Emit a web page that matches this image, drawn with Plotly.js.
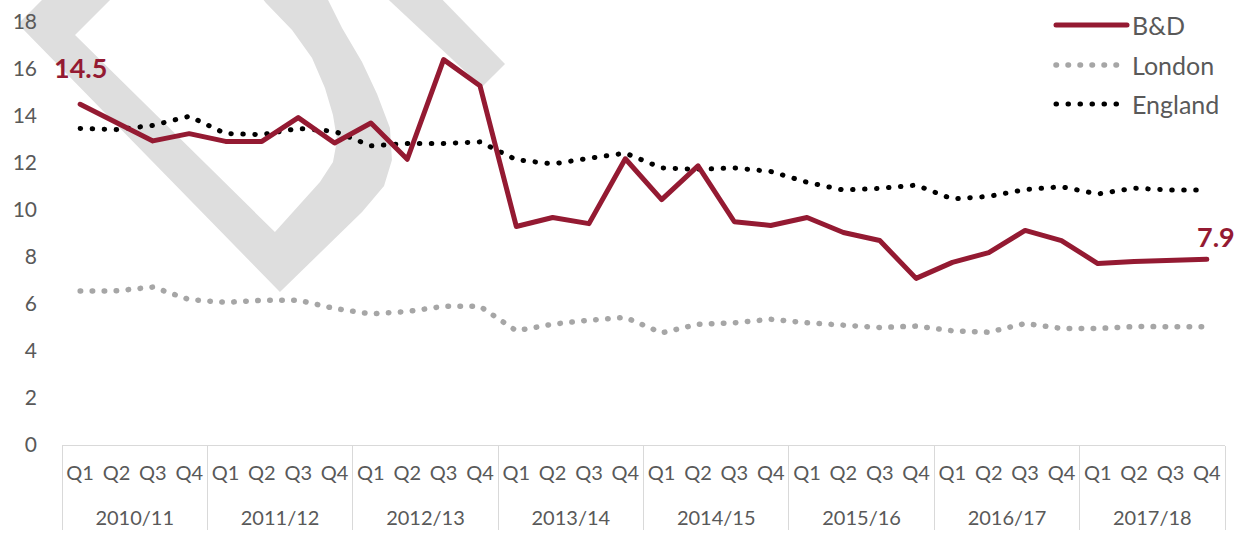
<!DOCTYPE html>
<html>
<head>
<meta charset="utf-8">
<script src="https://cdn.plot.ly/plotly-3.0.1.min.js"></script>
<style>
  html, body { margin: 0; padding: 0; background: #ffffff; }
  #chart { width: 1237px; height: 534px; }
  .scatterlayer .js-line { stroke-linecap: round; stroke-linejoin: round; }
  .shapelayer path.legline { stroke-linecap: round; }
</style>
</head>
<body>
<div id="chart"></div>
<script>
// ---------- data ----------
var years = ['2010/11', '2011/12', '2012/13', '2013/14', '2014/15', '2015/16', '2016/17', '2017/18'];
var quarters = ['Q1', 'Q2', 'Q3', 'Q4'];

var bdValues = [14.5, 13.7, 12.94, 13.25, 12.92, 12.92, 13.93, 12.85,
                13.7, 12.16, 16.4, 15.29, 9.3, 9.68, 9.42, 12.18,
                10.44, 11.88, 9.5, 9.34, 9.68, 9.04, 8.7, 7.09,
                7.77, 8.19, 9.13, 8.7, 7.72, 7.81, 7.87, 7.9];

var londonValues = [6.55, 6.56, 6.72, 6.19, 6.07, 6.16, 6.16, 5.81,
                    5.58, 5.68, 5.9, 5.9, 4.86, 5.14, 5.31, 5.43,
                    4.77, 5.14, 5.2, 5.35, 5.2, 5.1, 5.0, 5.06,
                    4.86, 4.8, 5.17, 4.96, 4.96, 5.04, 5.04, 5.03];

var englandValues = [13.47, 13.42, 13.6, 13.99, 13.25, 13.21, 13.47, 13.35,
                     12.73, 12.83, 12.83, 12.9, 12.14, 11.96, 12.2, 12.42,
                     11.79, 11.73, 11.79, 11.64, 11.18, 10.85, 10.92, 11.06,
                     10.47, 10.58, 10.87, 10.99, 10.68, 10.93, 10.85, 10.85];

var seriesNames = ['B&D', 'London', 'England'];

// ---------- build multicategory x ----------
// (quarter labels get an empty second line so the year row sits lower, as in the original)
var xYear = [], xQuarter = [];
years.forEach(function (y) {
  quarters.forEach(function (q) {
    xYear.push(y);
    xQuarter.push(q + '<br><span style="font-size:34px">\u00a0</span>');
  });
});
var xCats = [xYear, xQuarter];

var FONT = 'Lato, "Open Sans", sans-serif';
var GREY = '#595959';
var BD_COLOR = '#941a32';
var LON_COLOR = '#a6a6a6';
var ENG_COLOR = '#000000';

var traces = [
  { x: xCats, y: londonValues, name: seriesNames[1], type: 'scatter', mode: 'lines',
    line: { color: LON_COLOR, width: 5.5, dash: '0.5px,11.5px' }, showlegend: false },
  { x: xCats, y: englandValues, name: seriesNames[2], type: 'scatter', mode: 'lines',
    line: { color: ENG_COLOR, width: 5, dash: '0.5px,11.5px' }, showlegend: false },
  { x: xCats, y: bdValues, name: seriesNames[0], type: 'scatter', mode: 'lines',
    line: { color: BD_COLOR, width: 5 }, showlegend: false }
];

// ---------- decoration: watermark (pixel -> paper) ----------
var PL = 62, PW = 1163, PB = 445, PH = 423;
function pt(px, py) {
  return ((px - PL) / PW).toFixed(4) + ',' + ((PB - py) / PH).toFixed(4);
}
function poly(list) {
  return 'M' + list.map(function (p) { return pt(p[0], p[1]); }).join(' L') + ' Z';
}
var wmColor = '#dedede';
var wmD = poly([
  [54, -12], [18, 24], [280, 292],
  [362, 212], [384, 186], [392, 160], [390, 128], [377, 94], [362, 62], [342, 28], [322, -12],
  [254, -12], [266, 3], [292, 30], [312, 58], [325, 88], [333, 115], [337, 140], [333, 162], [320, 182],
  [275, 232], [75, 35], [122, -12]
]);
var wmBand = poly([[376, -12], [431, -12], [505, 64], [482, 87]]);

// legend (drawn manually to match long sample lines)
function legY(py) { return (PB - py) / PH; }
function legX(px) { return (px - PL) / PW; }
var legendRows = [
  { name: seriesNames[0], color: BD_COLOR, dash: 'solid', width: 5, y: 25 },
  { name: seriesNames[1], color: LON_COLOR, dash: '0.5px,11.5px', width: 5.5, y: 65 },
  { name: seriesNames[2], color: ENG_COLOR, dash: '0.5px,11.5px', width: 5, y: 104 }
];

var shapes = [
  { type: 'path', xref: 'paper', yref: 'paper', path: wmD, fillcolor: wmColor, line: { width: 0 }, layer: 'below' },
  { type: 'path', xref: 'paper', yref: 'paper', path: wmBand, fillcolor: wmColor, line: { width: 0 }, layer: 'below' }
];
var annotations = [];
legendRows.forEach(function (r) {
  shapes.push({ type: 'line', xref: 'paper', yref: 'paper',
    x0: legX(1056), x1: legX(1127), y0: legY(r.y), y1: legY(r.y),
    line: { color: r.color, width: r.width, dash: r.dash } });
  annotations.push({ xref: 'paper', yref: 'paper', x: legX(1130), y: legY(r.y),
    xanchor: 'left', yanchor: 'middle', showarrow: false, text: r.name,
    font: { family: FONT, size: 25, color: GREY } });
});

// data labels on first and last B&D points
annotations.push({ xref: 'x', yref: 'y', x: 0, y: bdValues[0], text: '<b>' + bdValues[0].toFixed(1) + '</b>',
  showarrow: false, yshift: 37, font: { family: FONT, size: 27, color: BD_COLOR } });
annotations.push({ xref: 'x', yref: 'y', x: bdValues.length - 1, y: bdValues[bdValues.length - 1],
  text: '<b>' + bdValues[bdValues.length - 1].toFixed(1) + '</b>',
  showarrow: false, yshift: 23, xshift: 9, font: { family: FONT, size: 27, color: BD_COLOR } });

var layout = {
  width: 1237, height: 534,
  margin: { l: PL, r: 1237 - PL - PW, t: 22, b: 534 - PB },
  paper_bgcolor: '#ffffff', plot_bgcolor: 'rgba(0,0,0,0)',
  showlegend: false,
  xaxis: {
    type: 'multicategory', range: [-0.5, 31.5],
    showline: true, linecolor: '#d9d9d9', linewidth: 1,
    showdividers: true, dividercolor: '#d9d9d9', dividerwidth: 1,
    showgrid: false, zeroline: false, ticks: '',
    ticklabelstandoff: 10,
    tickfont: { family: FONT, size: 20, color: GREY }
  },
  yaxis: {
    range: [0, 18], dtick: 2, tick0: 0,
    showgrid: false, zeroline: false, showline: false, ticks: '',
    ticklabelstandoff: 24,
    tickfont: { family: FONT, size: 21, color: GREY }
  },
  shapes: shapes,
  annotations: annotations
};

Plotly.newPlot('chart', traces, layout, { staticPlot: true, displayModeBar: false }).then(function () {
  document.querySelectorAll('.shapelayer path').forEach(function (p) {
    p.classList.add('legline');
  });
});
</script>
</body>
</html>
